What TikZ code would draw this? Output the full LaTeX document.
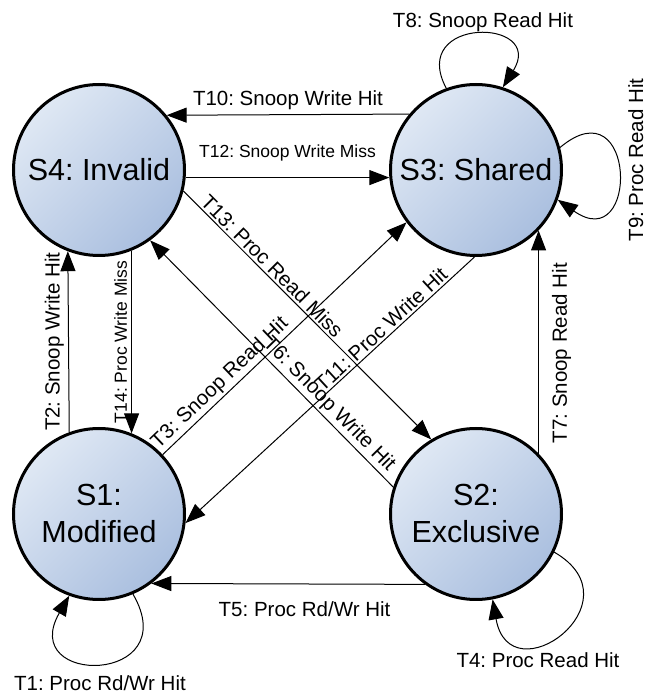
\documentclass[tikz,border=0pt]{standalone}
\usepackage{fontspec}
\setmainfont{Liberation Sans}
\usetikzlibrary{arrows.meta}
\definecolor{stlight}{HTML}{DFE8F4}
\definecolor{stdark}{HTML}{AABFDF}
\frenchspacing
\begin{document}
\begin{tikzpicture}[x=1pt,y=1pt,
  state/.style={circle, draw=black, line width=3pt, minimum size=171pt, inner sep=0pt,
    align=center, font=\fontsize{30.5}{37}\selectfont,
    top color=stlight, bottom color=stdark, shading angle=45},
  arr/.style={line width=1pt, -{Triangle[length=20pt,width=15pt]}},
  lbl/.style={font=\fontsize{20.5}{24}\selectfont, inner sep=2pt},
  slbl/.style={font=\fontsize{17.5}{21}\selectfont, inner sep=2pt}]
\useasboundingbox (0,0) rectangle (646,694);
% states
\node[state] (S4) at (99,524) {S4: Invalid};
\node[state] (S3) at (476,524) {S3: Shared};
\node[state] (S1) at (99,180) {S1:\\Modified};
\node[state] (S2) at (476,180) {S2:\\Exclusive};
% straight transitions
\draw[arr] (S3.140.8) -- (S4.39.2) node[lbl, midway, above=2.7pt] (l10) {T10: Snoop Write Hit};
\draw[arr] (S4.-5.9) -- (S3.185.9) node[slbl, midway, above=14pt] (l12) {T12: Snoop Write Miss};
\draw[arr] (S1.110.9) -- (S4.249.1) node[lbl, midway, rotate=90, above=2.2pt] (l2) {T2: Snoop Write Hit};
\draw[arr] (S4.-68.4) -- (S1.68.4) node[slbl, midway, rotate=90, above=2pt] (l14) {T14: Proc Write Miss};
\draw[arr] (S2.44.6) -- (S3.-44.6) node[lbl, pos=0.45, rotate=90, below=11pt] (l7) {T7: Snoop Read Hit};
\draw[arr] (S2.-126.4) -- (S1.-53.6) node[lbl, pos=0.44, below=15pt] (l5) {T5: Proc Rd/Wr Hit};
\draw[arr] (S1.43.7) -- (S3.-143.3) node[lbl, pos=0.27, sloped, above] (l3) {T3: Snoop Read Hit};
\draw[arr] (S3.-91) -- (S1.-6) node[lbl, pos=0.3, sloped, above] (l11) {T11: Proc Write Hit};
\draw[arr] (S2.162) -- (S4.-54.7) node[lbl, pos=0.3, sloped, above] (l6) {T6: Snoop Write Hit};
\draw[arr] (S4.-14.5) -- (S2.121.2) node[lbl, pos=0.33, sloped, above] (l13) {T13: Proc Read Miss};
% self loops
\draw[arr] (S3.110) .. controls +(118:82) and +(58:82) .. (S3.72);
\draw[arr] (S3.15.4) .. controls +(40:100) and +(-35:100) .. (S3.-20.8);
\draw[arr] (S2.-26.6) .. controls +(-30:100) and +(-80:100) .. (S2.-79);
\draw[arr] (S1.-67.3) .. controls +(-60:105) and +(-120:105) .. (S1.-110.5);
% loop labels
\node[lbl, anchor=base] (l8) at (483,666) {T8: Snoop Read Hit};
\node[lbl, rotate=90, anchor=base] (l9) at (643,534) {T9: Proc Read Hit};
\node[lbl, anchor=base] (l4) at (538,26) {T4: Proc Read Hit};
\node[lbl, anchor=base] (l1) at (100,4) {T1: Proc Rd/Wr Hit};
\end{tikzpicture}
\end{document}
